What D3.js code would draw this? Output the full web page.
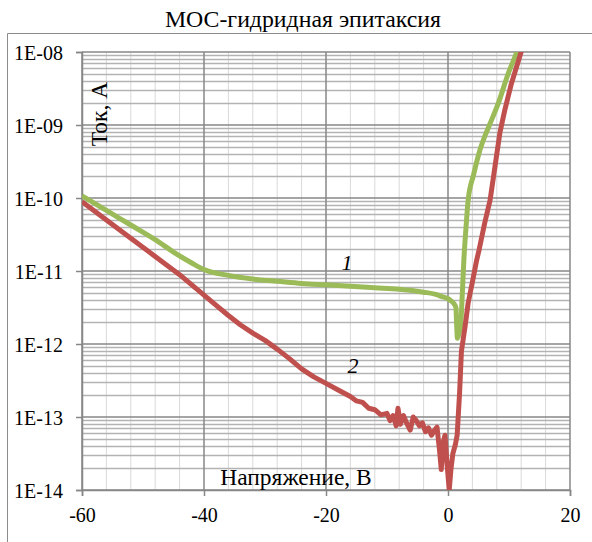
<!DOCTYPE html>
<html>
<head>
<meta charset="utf-8">
<script src="https://cdn.jsdelivr.net/npm/d3@7"></script>
<style>
  body { margin: 0; background: #fff; }
  svg { display: block; font-family: "Liberation Serif", "Times New Roman", serif; }
</style>
</head>
<body>
<svg width="592" height="542"></svg>
<script>
const title = "МОС-гидридная эпитаксия";
const xTicks = [-60, -40, -20, 0, 20];
const yTicks = [1e-14, 1e-13, 1e-12, 1e-11, 1e-10, 1e-9, 1e-8];
const yTickLabels = ["1E-14", "1E-13", "1E-12", "1E-11", "1E-10", "1E-09", "1E-08"];

// curve 1 (green): voltage, V and log10 of current, A
const v1 = [-60, -56, -52, -48, -45, -42, -40, -36, -32, -28, -24, -20, -16, -12, -8, -4, -2, -1, 0,
  0.5, 1.0, 1.3, 1.4, 1.55, 1.8, 2.1, 2.35, 2.6, 3.0, 3.3, 4.2, 5.25, 6.1, 6.9, 8.25, 9.9, 11.3, 12];
const lg1 = [-9.97, -10.17, -10.37, -10.57, -10.74, -10.89, -10.98, -11.06, -11.11, -11.14, -11.17, -11.19, -11.21, -11.23, -11.25, -11.29, -11.32, -11.35, -11.38,
  -11.41, -11.45, -11.5, -11.7, -11.92, -11.86, -11.72, -11.3, -10.85, -10.35, -10.03, -9.68, -9.34, -9.14, -8.98, -8.70, -8.29, -8.0, -7.85];

// curve 2 (red)
const v2 = [-60, -56, -52, -48, -44, -42, -40, -38, -36, -34, -32, -30, -28, -26, -24, -22, -20, -18, -16, -15, -14, -13, -12, -11, -10,
  -9.5, -9, -8.5, -8.2, -7.8, -7.3, -6.8, -6.2, -5.7, -5.2, -4.7, -4.2, -3.7, -3.2, -2.7, -2.2, -1.8, -1.4, -1.1, -0.8, -0.5, -0.2,
  0.2, 0.5, 0.8, 1.2, 1.5, 1.9, 2.2, 2.8, 3.3, 4.0, 4.7, 5.1, 6.0, 6.9, 7.7, 8.5, 9.3, 10.4, 12.1];
const lg2 = [-10.05, -10.3, -10.55, -10.8, -11.05, -11.19, -11.33, -11.47, -11.61, -11.74, -11.85, -11.95, -12.07, -12.2, -12.34, -12.45, -12.54, -12.63, -12.72, -12.78, -12.8, -12.88, -12.9, -12.97, -12.95,
  -13.05, -12.98, -13.12, -12.88, -13.1, -12.98, -13.08, -13.18, -13.0, -13.05, -13.12, -13.08, -13.2, -13.15, -13.25, -13.18, -13.14, -13.45, -13.72, -13.35, -13.25, -13.6,
  -14.0, -13.7, -13.5, -13.38, -13.25, -12.67, -12.1, -11.76, -11.44, -11.15, -10.85, -10.71, -10.35, -10.03, -9.57, -9.11, -8.8, -8.43, -7.97];

const svg = d3.select("svg");
const pLeft = 82, pRight = 570, pTop = 52, pBottom = 490;

const x = d3.scaleLinear().domain([-60, 20]).range([pLeft, pRight]);
const y = d3.scaleLog().domain([1e-14, 1e-8]).range([pBottom, pTop]);

// outer frame
svg.append("path")
  .attr("d", `M7.5,600 V33.5 H600`)
  .attr("fill", "none")
  .attr("stroke", "#8c8c8c")
  .attr("stroke-width", 1);

svg.append("text")
  .attr("x", 303).attr("y", 27)
  .attr("text-anchor", "middle")
  .attr("font-size", 23.8)
  .text(title);

// minor grid values
const xMinor = d3.range(-60, 21, 4).filter(d => d % 20 !== 0);
const yMinor = [];
for (let e = -14; e < -8; e++) {
  for (let k = 2; k < 10; k++) yMinor.push(k * Math.pow(10, e));
}

const grid = svg.append("g");
grid.selectAll(".vmin").data(xMinor).join("line")
  .attr("x1", d => x(d)).attr("x2", d => x(d))
  .attr("y1", pTop).attr("y2", pBottom)
  .attr("stroke", "#d9d9d9").attr("stroke-width", 1);
grid.selectAll(".hmin").data(yMinor).join("line")
  .attr("x1", pLeft).attr("x2", pRight)
  .attr("y1", d => Math.round(y(d)) + 0.5).attr("y2", d => Math.round(y(d)) + 0.5)
  .attr("stroke", "#b3b3b3").attr("stroke-width", 1.3);
grid.selectAll(".vmaj").data(xTicks).join("line")
  .attr("x1", d => x(d)).attr("x2", d => x(d))
  .attr("y1", pTop).attr("y2", pBottom)
  .attr("stroke", "#878787").attr("stroke-width", 1.5);
grid.selectAll(".hmaj").data(yTicks).join("line")
  .attr("x1", pLeft).attr("x2", pRight)
  .attr("y1", d => y(d)).attr("y2", d => y(d))
  .attr("stroke", "#878787").attr("stroke-width", 1.5);

// axes
const xAxis = svg.append("g")
  .attr("transform", `translate(0,${pBottom})`)
  .call(d3.axisBottom(x).tickValues(xTicks).tickSize(6).tickFormat(d => String(d)));
const yAxis = svg.append("g")
  .attr("transform", `translate(${pLeft},0)`)
  .call(d3.axisLeft(y).tickValues(yTicks).tickSize(6)
    .tickFormat((d, i) => yTickLabels[i]));
[xAxis, yAxis].forEach(a => {
  a.select(".domain").attr("stroke", "#878787").attr("stroke-width", 1.5);
  a.selectAll(".tick line").attr("stroke", "#878787").attr("stroke-width", 1.5);
  a.selectAll("text").attr("font-family", "Liberation Serif").attr("font-size", 20).attr("fill", "#000");
});
xAxis.selectAll("text").attr("dy", "0.71em").attr("y", 18);
yAxis.selectAll("text").attr("x", -19).attr("dy", "0.35em");

// curves
svg.append("clipPath").attr("id", "plot")
  .append("rect").attr("x", pLeft).attr("y", pTop)
  .attr("width", pRight - pLeft).attr("height", pBottom - pTop);

const line = d3.line()
  .x(d => x(d[0]))
  .y(d => y(Math.pow(10, d[1])));

const s1 = v1.map((v, i) => [v, lg1[i]]);
const s2 = v2.map((v, i) => [v, lg2[i]]);

const curves = svg.append("g").attr("clip-path", "url(#plot)");
curves.append("path").datum(s1)
  .attr("d", line.curve(d3.curveMonotoneX))
  .attr("fill", "none").attr("stroke", "#9bbb59")
  .attr("stroke-width", 5).attr("stroke-linejoin", "round");
curves.append("path").datum(s2)
  .attr("d", line.curve(d3.curveLinear))
  .attr("fill", "none").attr("stroke", "#c0504d")
  .attr("stroke-width", 5).attr("stroke-linejoin", "round");

// labels
svg.append("text")
  .attr("transform", "translate(107,114) rotate(-90)")
  .attr("text-anchor", "middle")
  .attr("font-size", 23.5)
  .text("Ток, А");
svg.append("text")
  .attr("x", 296).attr("y", 485)
  .attr("text-anchor", "middle")
  .attr("font-size", 23.5)
  .text("Напряжение, В");
svg.append("text")
  .attr("x", 347).attr("y", 270)
  .attr("text-anchor", "middle")
  .attr("font-size", 22).attr("font-style", "italic")
  .text("1");
svg.append("text")
  .attr("x", 353).attr("y", 373)
  .attr("text-anchor", "middle")
  .attr("font-size", 22).attr("font-style", "italic")
  .text("2");
</script>
</body>
</html>
